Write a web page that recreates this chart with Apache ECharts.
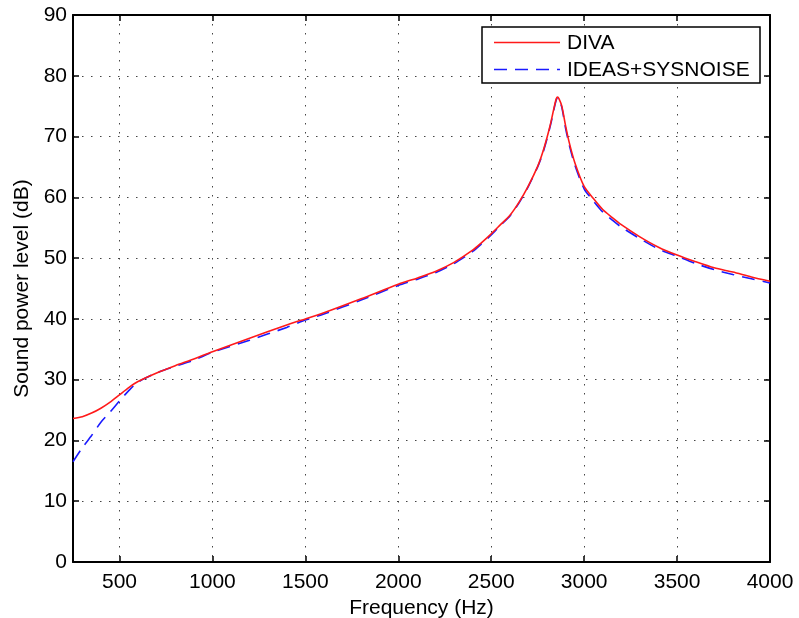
<!DOCTYPE html>
<html>
<head>
<meta charset="utf-8">
<script src="https://cdn.jsdelivr.net/npm/echarts@6/dist/echarts.min.js"></script>
<style>html,body{margin:0;padding:0;background:#fff;}#c{width:799px;height:618px;}</style>
</head>
<body>
<div id="c"></div>
<script>
var freq = [250, 300, 350, 400, 450, 500, 550, 600, 700, 800, 900, 1000, 1200, 1400, 1500, 1600, 1800, 2000, 2100, 2200, 2300, 2400, 2450, 2500, 2550, 2600, 2650, 2700, 2750, 2775, 2800, 2820, 2840, 2850, 2857, 2865, 2880, 2900, 2920, 2950, 3000, 3050, 3100, 3150, 3200, 3300, 3400, 3500, 3600, 3700, 3800, 3900, 4000];
var diva = [23.6, 23.9, 24.5, 25.3, 26.3, 27.5, 28.7, 29.7, 31.1, 32.3, 33.4, 34.6, 36.8, 39.0, 40.0, 41.0, 43.3, 45.7, 46.7, 47.8, 49.3, 51.3, 52.6, 54.0, 55.5, 57.0, 59.2, 61.9, 65.1, 67.2, 69.8, 72.2, 75.0, 76.2, 76.5, 76.2, 75.0, 71.8, 69.0, 65.7, 61.8, 59.8, 58.0, 56.7, 55.5, 53.5, 51.8, 50.5, 49.4, 48.4, 47.7, 46.9, 46.2];
var ideas = [16.5, 18.8, 20.8, 23.0, 24.7, 26.5, 28.2, 29.6, 31.1, 32.2, 33.2, 34.5, 36.5, 38.6, 39.8, 40.8, 43.1, 45.5, 46.5, 47.6, 49.1, 51.1, 52.4, 53.8, 55.4, 56.9, 59.1, 61.8, 65.0, 67.0, 69.6, 72.0, 74.8, 76.0, 76.4, 76.1, 74.8, 71.4, 68.6, 65.3, 61.4, 59.4, 57.6, 56.3, 55.1, 53.2, 51.5, 50.3, 49.1, 48.1, 47.3, 46.6, 45.9];
var xTicks = [500, 1000, 1500, 2000, 2500, 3000, 3500, 4000];
var seriesNames = ['DIVA', 'IDEAS+SYSNOISE'];

var FONT = 'Liberation Sans';
var FS = 21;
var RED = '#ff1a1a', BLUE = '#1a1aff', DASH = [13, 8];
function pairs(xs, ys){ return xs.map(function(x,i){ return [x, ys[i]]; }); }
var chart = echarts.init(document.getElementById('c'), null, {renderer:'canvas'});
var gridLine = {show:true, lineStyle:{color:'#444', width:1, type:[1.5,7.5]}};
var axLine = {show:true, onZero:false, lineStyle:{color:'#000', width:2}};
chart.setOption({
  animation:false,
  backgroundColor:'#fff',
  grid:{left:73, right:29, top:15, bottom:56, containLabel:false, outerBoundsMode:'none'},
  xAxis:[{
    type:'value', min:250, max:4000, position:'bottom',
    name:'Frequency (Hz)', nameLocation:'middle', nameGap:33,
    nameTextStyle:{fontFamily:FONT, fontSize:FS, color:'#000'},
    axisLine:axLine,
    axisTick:{show:true, inside:true, length:6, customValues:xTicks, lineStyle:{color:'#000', width:1.5}},
    axisLabel:{show:true, customValues:xTicks, margin:10, fontFamily:FONT, fontSize:FS, color:'#000',
      formatter:function(v){ return String(v); }},
    splitLine:gridLine
  },{
    type:'value', min:250, max:4000, position:'top',
    axisLine:axLine,
    axisTick:{show:true, inside:true, length:6, customValues:xTicks, lineStyle:{color:'#000', width:1.5}},
    axisLabel:{show:false},
    splitLine:{show:false}
  }],
  yAxis:[{
    type:'value', min:0, max:90, interval:10, position:'left',
    name:'Sound power level (dB)', nameLocation:'middle', nameGap:40,
    nameTextStyle:{fontFamily:FONT, fontSize:FS, color:'#000'},
    axisLine:axLine,
    axisTick:{show:true, inside:true, length:6, lineStyle:{color:'#000', width:1.5}},
    axisLabel:{margin:6, fontFamily:FONT, fontSize:FS, color:'#000'},
    splitLine:gridLine
  },{
    type:'value', min:0, max:90, interval:10, position:'right',
    axisLine:axLine,
    axisTick:{show:true, inside:true, length:6, lineStyle:{color:'#000', width:1.5}},
    axisLabel:{show:false},
    splitLine:{show:false}
  }],
  legend:{show:false},
  graphic:[
    {type:'rect', z:100, shape:{x:482, y:27, width:278, height:56}, style:{fill:'#fff', stroke:'#000', lineWidth:1.5}},
    {type:'line', z:101, shape:{x1:494, y1:42.5, x2:560, y2:42.5}, style:{stroke:RED, lineWidth:1.6}},
    {type:'text', z:101, x:567, y:43, style:{text:seriesNames[0], font:FS+'px "'+FONT+'"', fill:'#000', verticalAlign:'middle', align:'left'}},
    {type:'line', z:101, shape:{x1:494, y1:69.5, x2:560, y2:69.5}, style:{stroke:BLUE, lineWidth:1.6, lineDash:DASH}},
    {type:'text', z:101, x:567, y:70, style:{text:seriesNames[1], font:FS+'px "'+FONT+'"', fill:'#000', verticalAlign:'middle', align:'left'}}
  ],
  series:[{
    name:seriesNames[0], type:'line', data:pairs(freq, diva), smooth:0.25, showSymbol:false, symbol:'none',
    lineStyle:{color:RED, width:1.6}, itemStyle:{color:RED}, z:3
  },{
    name:seriesNames[1], type:'line', data:pairs(freq, ideas), smooth:0.25, showSymbol:false, symbol:'none',
    lineStyle:{color:BLUE, width:1.6, type:DASH}, itemStyle:{color:BLUE}, z:2
  }]
});
</script>
</body>
</html>
